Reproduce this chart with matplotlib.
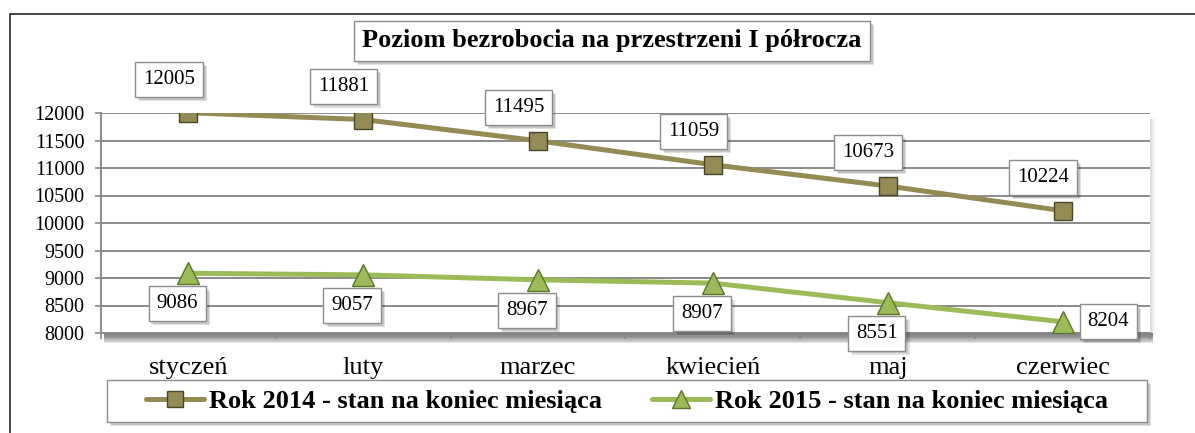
import matplotlib
matplotlib.use("Agg")
import matplotlib.pyplot as plt
import matplotlib.patheffects as pe
from matplotlib.patches import Rectangle

plt.rcParams['font.family'] = ['Liberation Serif', 'DejaVu Serif']

months = ['styczeń', 'luty', 'marzec', 'kwiecień', 'maj', 'czerwiec']
rok_2014 = [12005, 11881, 11495, 11059, 10673, 10224]
rok_2015 = [9086, 9057, 8967, 8907, 8551, 8204]
label_2014 = 'Rok 2014 - stan na koniec miesiąca'
label_2015 = 'Rok 2015 - stan na koniec miesiąca'
title = 'Poziom bezrobocia na przestrzeni I półrocza'

W, H = 1195, 433
fig = plt.figure(figsize=(W / 100, H / 100), dpi=100)

def fx(px):
    return px / W

def fy(py):
    return 1 - py / H

# outer chart frame (cropped on right/bottom)
fig.patches.append(Rectangle((fx(10), -0.1), 1.2, fy(14) + 0.1, transform=fig.transFigure,
                             fill=False, edgecolor='#3a3a3a', lw=1.3, zorder=-2))

# plot area
left, right, top, bottom = 101, 1150, 113, 333
ax = fig.add_axes([fx(left), fy(bottom), fx(right - left), fy(top) - fy(bottom)])

# soft shadow: dark band below the floor, faint one on the right
for g in range(1, 8):
    fig.patches.append(Rectangle((fx(left + 3), fy(bottom + 1 + g * 1.3)),
                                 fx(right - left), fy(bottom) - fy(bottom + 1 + g * 1.3),
                                 transform=fig.transFigure, facecolor='#3c3c3c',
                                 edgecolor='none', alpha=0.13, zorder=-1))
for g in range(1, 4):
    fig.patches.append(Rectangle((fx(right), fy(bottom + 3)), fx(g * 1.5), fy(top + 6) - fy(bottom + 3),
                                 transform=fig.transFigure, facecolor='#3c3c3c',
                                 edgecolor='none', alpha=0.06, zorder=-1))

c14, c14e = '#948A54', '#4A4526'
c15, c15e = '#9BBB59', '#5A752A'

x = range(len(months))
ax.plot(x, rok_2014, color=c14, lw=3.6, marker='s', ms=13, mfc=c14, mec=c14e, mew=1.0,
        label=label_2014, zorder=3, solid_capstyle='round')
ax.plot(x, rok_2015, color=c15, lw=3.6, marker='^', ms=16, mfc=c15, mec=c15e, mew=1.0,
        label=label_2015, zorder=3, solid_capstyle='round')

ax.set_xlim(-0.5, len(months) - 0.5)
ax.set_ylim(8000, 12000)
ax.set_yticks(range(8000, 12001, 500))
ax.grid(axis='y', color='#8a8a8a', lw=1.4)
ax.set_axisbelow(True)
for s in ['top', 'right']:
    ax.spines[s].set_visible(False)
for s in ['left', 'bottom']:
    ax.spines[s].set_color('#8a8a8a')
    ax.spines[s].set_linewidth(1.4)

ax.set_xticks(list(x))
ax.set_xticklabels(months, fontsize=19)
ax.set_xticks([i - 0.5 for i in range(len(months) + 1)], minor=True)
ax.tick_params(axis='x', which='major', length=0, pad=17)
ax.tick_params(axis='x', which='minor', length=4, color='#8a8a8a', width=1.2)
ax.tick_params(axis='y', length=4, color='#8a8a8a', width=1.2, labelsize=14.5, pad=8)


def shadowed(t):
    t.get_bbox_patch().set_path_effects([
        pe.SimplePatchShadow(offset=(3, -3), shadow_rgbFace='#000000', alpha=0.12),
        pe.SimplePatchShadow(offset=(2, -2), shadow_rgbFace='#000000', alpha=0.12),
        pe.Normal()])


box = dict(boxstyle='square,pad=0.38', facecolor='white', edgecolor='#8c8c8c', lw=1.0)
for i, v in enumerate(rok_2014):
    t = ax.annotate(str(v), (i, v), xytext=(-14, 24), textcoords='offset points',
                    ha='center', va='center', fontsize=15, bbox=box, zorder=5)
    shadowed(t)
for i, v in enumerate(rok_2015):
    off = (33, 0) if i == len(rok_2015) - 1 else (-8, -22)
    t = ax.annotate(str(v), (i, v), xytext=off, textcoords='offset points',
                    ha='center', va='center', fontsize=15, bbox=box, zorder=5,
                    annotation_clip=False)
    shadowed(t)

# title
tt = fig.text(fx(612), fy(41), title, ha='center', va='center', fontsize=19, fontweight='bold',
              bbox=dict(boxstyle='square,pad=0.32', facecolor='white', edgecolor='#8c8c8c', lw=1.0))
shadowed(tt)

# legend
leg_box = Rectangle((fx(107), fy(422)), fx(1040), fy(380) - fy(422), transform=fig.transFigure,
                    facecolor='white', edgecolor='#8c8c8c', lw=1.0, zorder=2)
leg_box.set_path_effects([
    pe.SimplePatchShadow(offset=(3, -3), shadow_rgbFace='#000000', alpha=0.12),
    pe.SimplePatchShadow(offset=(2, -2), shadow_rgbFace='#000000', alpha=0.12),
    pe.Normal()])
fig.patches.append(leg_box)
leg = fig.legend(loc='center', bbox_to_anchor=(fx(627), fy(401)), ncol=2, frameon=False,
                 prop={'size': 19, 'weight': 'bold'}, handlelength=2.2, handletextpad=0.2,
                 columnspacing=1.9, markerscale=0.85)
leg.set_zorder(3)

fig.savefig('out.png', dpi=100)
